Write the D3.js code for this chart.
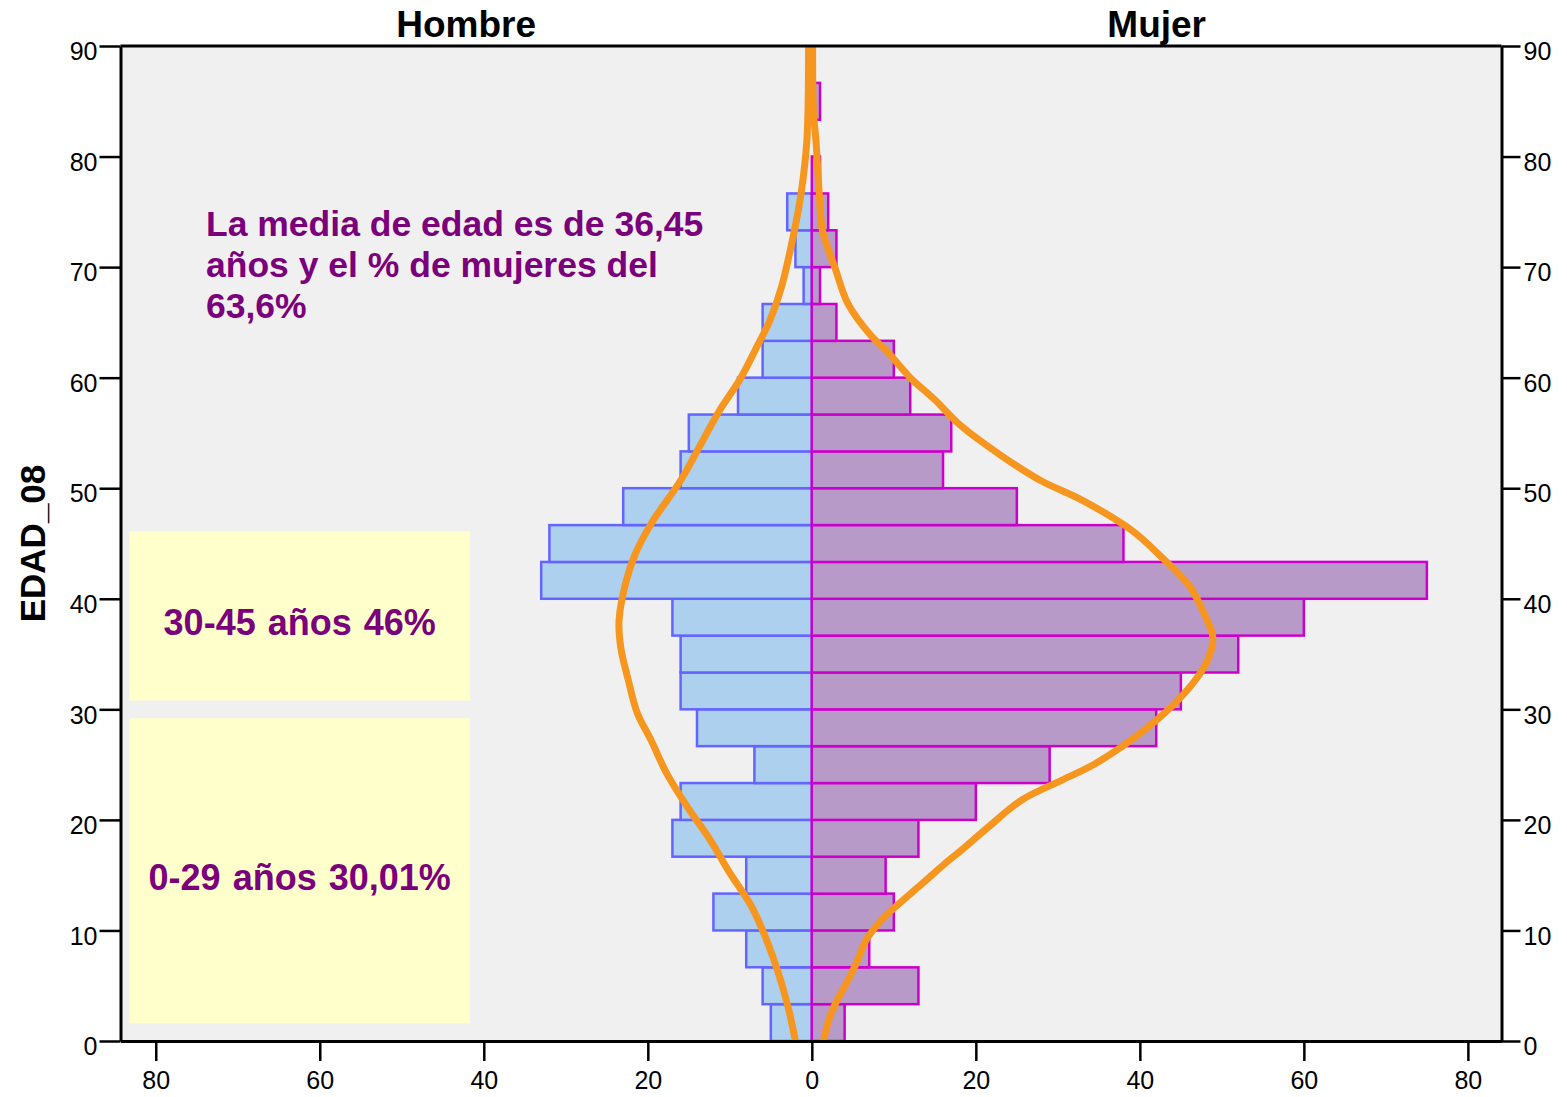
<!DOCTYPE html>
<html>
<head>
<meta charset="utf-8">
<script src="https://cdn.jsdelivr.net/npm/d3@7"></script>
<style>
body { margin: 0; background: #fff; }
text { font-family: "Liberation Sans", Arial, sans-serif; }
</style>
</head>
<body>
<svg id="chart" width="1567" height="1097"></svg>
<script>
// Age bins (lower edge), width 90/27 years
var binStart = [0, 3.33, 6.67, 10, 13.33, 16.67, 20, 23.33, 26.67, 30, 33.33, 36.67, 40, 43.33,
                46.67, 50, 53.33, 56.67, 60, 63.33, 66.67, 70, 73.33, 76.67, 80, 83.33, 86.67];
var binWidth = 3.333;

// Counts per bin
var hombre = [5, 6, 8, 12, 8, 17, 16, 7, 14, 16, 16, 17, 33, 32, 23, 16, 15, 9, 6, 6, 1, 2, 3, 0, 0, 0, 0];
var mujer  = [4, 13, 7, 10, 9, 13, 20, 29, 42, 45, 52, 60, 75, 38, 25, 16, 17, 12, 10, 3, 1, 3, 2, 1, 0, 1, 0];

// Fitted curves: [age, value]
var hombreCurve = [[0, -2.0], [3.1, -2.9], [6.2, -4.1], [9.1, -5.5], [12.1, -7.3], [15.2, -10.0],
    [18.2, -12.4], [21.2, -15.2], [24.2, -17.7], [27.2, -19.6], [29.7, -21.3], [32.7, -22.4],
    [35.6, -23.3], [38.1, -23.5], [41.7, -22.6], [44.1, -21.5], [46.9, -19.5], [50.7, -16.0],
    [53.9, -13.6], [57.1, -11.2], [59.8, -8.8], [62.5, -6.9], [65.2, -5.1], [68.2, -3.7],
    [73.4, -2.1], [76.7, -1.3], [81.5, -0.6], [90, -0.4]];
var mujerCurve = [[0, 1.4], [2.2, 2.2], [3.7, 3.1], [5.2, 4.2], [7.0, 5.4], [9.1, 6.6], [10.6, 8.1],
    [11.8, 9.7], [14.0, 13.1], [16.4, 16.8], [17.3, 18.3], [19.4, 21.6], [21.8, 25.6], [23.6, 30.5],
    [25.1, 34.6], [28.1, 40.5], [31.1, 45.0], [34.2, 48.1], [36.5, 48.9], [38.7, 47.8], [41.1, 46.1],
    [43.8, 42.6], [46.2, 39.0], [48.9, 33.0], [50.7, 27.9], [53.0, 23.0], [55.7, 18.1], [58.0, 15.0],
    [60.0, 12.0], [62.1, 9.5], [63.9, 7.1], [66.7, 4.4], [70.0, 2.8], [73.3, 1.3], [76.7, 0.9],
    [81.5, 0.5], [84, 0.2], [90, 0.1]];

var ageTicks = [0, 10, 20, 30, 40, 50, 60, 70, 80, 90];
var countTicks = [-80, -60, -40, -20, 0, 20, 40, 60, 80];

var notaMedia = ["La media de edad es de 36,45", "años y el % de mujeres del", "63,6%"];
var notaTramos = [
    {label: "30-45 años 46%", x0: -83.2, x1: -41.7, y0: 30.8, y1: 46.1},
    {label: "0-29 años 30,01%", x0: -83.2, x1: -41.7, y0: 1.6, y1: 29.2}
];

var purple = "#7b007b";

var svg = d3.select("#chart");
var x = d3.scaleLinear().domain([-84.3, 84.1]).range([120.5, 1501.5]);
var y = d3.scaleLinear().domain([0, 90]).range([1041, 46]);

// Plot background
svg.append("rect")
    .attr("x", x.range()[0]).attr("y", y(90))
    .attr("width", x.range()[1] - x.range()[0]).attr("height", y(0) - y(90))
    .attr("fill", "#f0f0f0");

// Yellow note boxes
notaTramos.forEach(function(n) {
    svg.append("rect")
        .attr("x", x(n.x0)).attr("y", y(n.y1))
        .attr("width", x(n.x1) - x(n.x0)).attr("height", y(n.y0) - y(n.y1))
        .attr("fill", "#ffffcc");
    svg.append("text")
        .attr("x", (x(n.x0) + x(n.x1)) / 2)
        .attr("y", (y(n.y0) + y(n.y1)) / 2 + 19.5)
        .attr("text-anchor", "middle")
        .attr("font-size", 36).attr("font-weight", "bold")
        .attr("word-spacing", 2)
        .attr("fill", purple)
        .text(n.label);
});

// Bars:
var bins = binStart.map((b, i) => ({age: b, h: hombre[i], m: mujer[i]}));

svg.append("g").selectAll("rect")
    .data(bins.filter((d) => d.h > 0))
    .enter().append("rect")
    .attr("x", (d) => x(-d.h))
    .attr("y", (d) => y(d.age + binWidth))
    .attr("width", (d) => x(0) - x(-d.h))
    .attr("height", (d) => y(d.age) - y(d.age + binWidth))
    .attr("fill", "#acd0ee")
    .attr("stroke", "#6464ff")
    .attr("stroke-width", 2.5);

svg.append("g").selectAll("rect")
    .data(bins.filter((d) => d.m > 0))
    .enter().append("rect")
    .attr("x", x(0))
    .attr("y", (d) => y(d.age + binWidth))
    .attr("width", (d) => x(d.m) - x(0))
    .attr("height", (d) => y(d.age) - y(d.age + binWidth))
    .attr("fill", "#b89ac8")
    .attr("stroke", "#cc00cc")
    .attr("stroke-width", 2.5);

// Curves:
var line = d3.line()
    .x((d) => x(d[1]))
    .y((d) => y(d[0]))
    .curve(d3.curveCatmullRom);

[hombreCurve, mujerCurve].forEach(function(c) {
    svg.append("path")
        .attr("d", line(c))
        .attr("fill", "none")
        .attr("stroke", "#f7961e")
        .attr("stroke-width", 7)
        .attr("stroke-linejoin", "round");
});

// Axes:
function styleAxis(g) {
    g.select(".domain").attr("stroke", "#000").attr("stroke-width", 3);
    g.selectAll(".tick line").attr("stroke", "#000").attr("stroke-width", 2.5);
    g.selectAll(".tick text").attr("font-size", 25).attr("fill", "#000")
        .attr("font-family", "Liberation Sans, Arial, sans-serif");
}

svg.append("g")
    .attr("transform", "translate(" + x.range()[0] + ",0)")
    .call(d3.axisLeft(y).tickValues(ageTicks).tickSize(21).tickSizeOuter(0).tickPadding(2))
    .call(styleAxis)
    .selectAll(".tick text").attr("dy", "0.55em");

svg.append("g")
    .attr("transform", "translate(" + x.range()[1] + ",0)")
    .call(d3.axisRight(y).tickValues(ageTicks).tickSize(19).tickSizeOuter(0).tickPadding(3))
    .call(styleAxis)
    .selectAll(".tick text").attr("dy", "0.55em");

svg.append("g")
    .attr("transform", "translate(0," + y(0) + ")")
    .call(d3.axisBottom(x).tickValues(countTicks).tickFormat((d) => Math.abs(d))
        .tickSize(20).tickSizeOuter(0).tickPadding(10))
    .call(styleAxis);

// Top frame line
svg.append("line")
    .attr("x1", x.range()[0]).attr("x2", x.range()[1])
    .attr("y1", y(90)).attr("y2", y(90))
    .attr("stroke", "#000").attr("stroke-width", 3);

// Titles:
svg.append("text")
    .attr("x", (x(-84.3) + x(0)) / 2).attr("y", 37)
    .attr("text-anchor", "middle").attr("font-size", 37).attr("font-weight", "bold")
    .text("Hombre");
svg.append("text")
    .attr("x", (x(0) + x(84.1)) / 2).attr("y", 37)
    .attr("text-anchor", "middle").attr("font-size", 37).attr("font-weight", "bold")
    .text("Mujer");
svg.append("text")
    .attr("transform", "translate(45," + (y(0) + y(90)) / 2 + ") rotate(-90)")
    .attr("text-anchor", "middle").attr("font-size", 35).attr("font-weight", "bold")
    .text("EDAD_08");

// Mean note
svg.append("g").selectAll("text")
    .data(notaMedia)
    .enter().append("text")
    .attr("x", 206)
    .attr("y", (d, i) => 236 + i * 41)
    .attr("font-size", 35.5).attr("font-weight", "bold")
    .attr("fill", purple)
    .text((d) => d);
</script>
</body>
</html>
